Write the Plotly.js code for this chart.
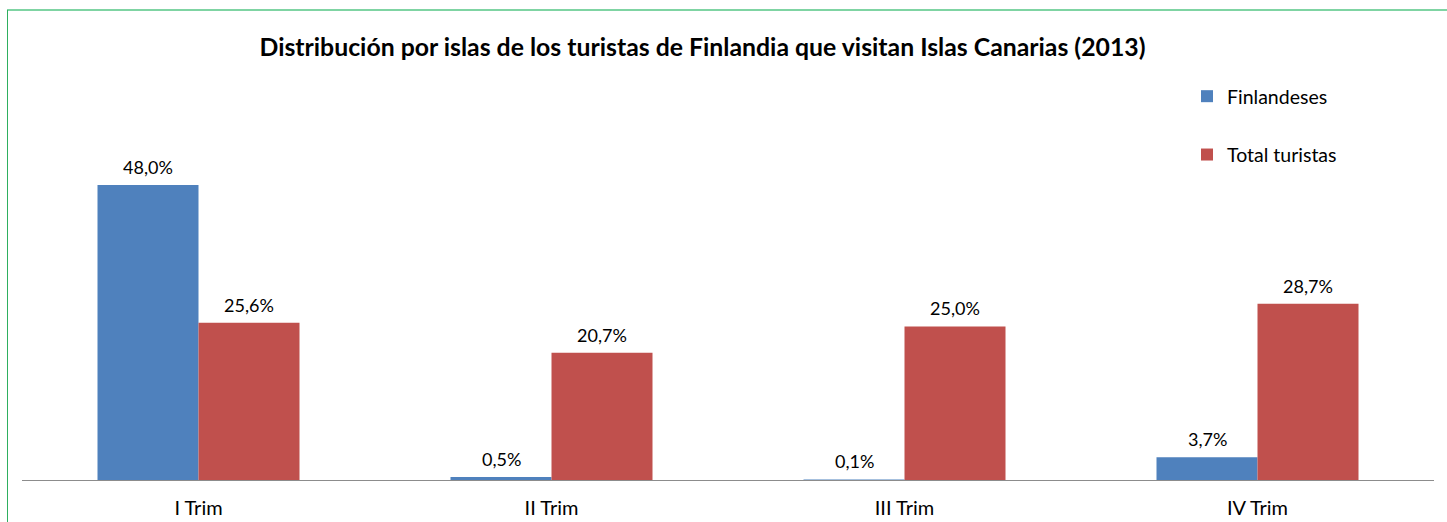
<!DOCTYPE html>
<html>
<head>
<meta charset="utf-8">
<script src="https://cdn.plot.ly/plotly-3.0.1.min.js"></script>
<style>
html,body{margin:0;padding:0;background:#fff;}
#chart{width:1447px;height:522px;}
</style>
</head>
<body>
<div id="chart"></div>
<script>
const categories = ["I Trim", "II Trim", "III Trim", "IV Trim"];
const seriesNames = ["Finlandeses", "Total turistas"];
const finlandeses = [48.0, 0.5, 0.1, 3.7];
const totalTuristas = [25.6, 20.7, 25.0, 28.7];
const colors = ["#4F81BD", "#C0504D"];
const titleText = "Distribución por islas de los turistas de Finlandia que visitan Islas Canarias (2013)";

const FONT = "Lato, 'Open Sans', sans-serif";
const fmt = v => v.toFixed(1).replace('.', ',') + '%';

const W = 1447, H = 522;
const margin = {l: 22, r: 13, t: 80, b: 42};
const plotW = W - margin.l - margin.r;
const plotH = H - margin.t - margin.b;
const yMax = 65.1;
const groupPx = plotW / categories.length;
const barPx = 101;
const bargap = 1 - (2 * barPx) / groupPx;

const series = [finlandeses, totalTuristas];
const traces = series.map((vals, i) => ({
  type: 'bar',
  name: seriesNames[i],
  x: categories,
  y: vals,
  marker: {color: colors[i], line: {width: 0}},
  legendgroup: 'g' + i,
  hoverinfo: 'skip'
}));

const annotations = [];
series.forEach((vals, i) => {
  vals.forEach((v, j) => {
    annotations.push({
      x: categories[j], y: v, xref: 'x', yref: 'y',
      xshift: (i === 0 ? -1 : 1) * barPx / 2,
      yshift: 5,
      yanchor: 'bottom', xanchor: 'center',
      text: fmt(v), showarrow: false,
      font: {family: FONT, size: 18, color: '#000'}
    });
  });
});

const px2x = p => (p - margin.l) / plotW;
const px2y = p => (H - margin.b - p) / plotH;

const layout = {
  width: W, height: H,
  margin: margin,
  paper_bgcolor: '#fff', plot_bgcolor: '#fff',
  font: {family: FONT, size: 18, color: '#000'},
  title: {
    text: '<b>' + titleText + '</b>',
    font: {family: FONT, size: 24.8, color: '#000'},
    x: 0.4855, xanchor: 'center', y: 1 - 47 / H, yanchor: 'middle', yref: 'container'
  },
  barmode: 'group', bargap: bargap, bargroupgap: 0,
  xaxis: {
    type: 'category', showgrid: false, zeroline: false,
    showline: true, linecolor: '#8C8C8C', linewidth: 1,
    ticks: '', ticklabelstandoff: 10,
    tickfont: {family: FONT, size: 20, color: '#000'},
    fixedrange: true
  },
  yaxis: {
    range: [0, yMax], visible: false, showgrid: false, zeroline: false, fixedrange: true
  },
  showlegend: true,
  legend: {
    x: px2x(1187), xanchor: 'left', y: px2y(77), yanchor: 'top',
    traceorder: 'grouped', tracegroupgap: 30,
    font: {family: FONT, size: 19.5, color: '#000'},
    bgcolor: 'rgba(0,0,0,0)', itemclick: false, itemdoubleclick: false
  },
  annotations: annotations,
  shapes: [
    {type: 'line', xref: 'paper', yref: 'paper', x0: px2x(7), x1: px2x(1447), y0: px2y(10), y1: px2y(10),
     line: {color: '#7FD4A3', width: 2}},
    {type: 'line', xref: 'paper', yref: 'paper', x0: px2x(7.5), x1: px2x(7.5), y0: px2y(10), y1: px2y(522),
     line: {color: '#2EAF5F', width: 1}}
  ]
};

Plotly.newPlot('chart', traces, layout, {displayModeBar: false, staticPlot: true});
</script>
</body>
</html>
